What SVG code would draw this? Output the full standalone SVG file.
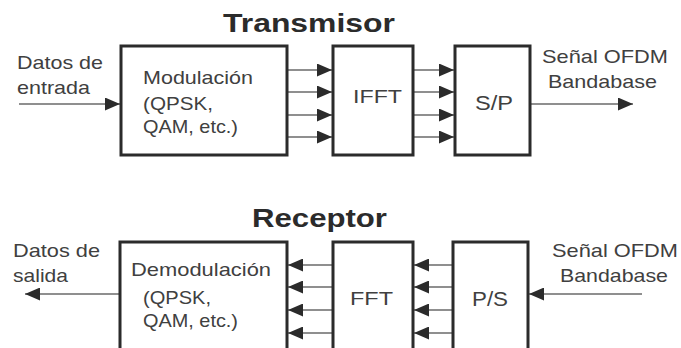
<svg xmlns="http://www.w3.org/2000/svg" width="681" height="348" viewBox="0 0 681 348">
<style>
.box{fill:#fff;stroke:#2b2b2b;stroke-width:3}
.t{font-family:"Liberation Sans",Arial,sans-serif;font-size:19px;fill:#404040}
.title{font-family:"Liberation Sans",Arial,sans-serif;font-size:26px;font-weight:bold;fill:#2b2b2b}
.ln{stroke:#6a6a6a;stroke-width:1.5;fill:none}
</style>
<defs>
<marker id="ah" markerWidth="15" markerHeight="13" refX="15" refY="6.5" orient="auto" markerUnits="userSpaceOnUse">
<path d="M0,0 L15,6.5 L0,13 Z" fill="#2b2b2b"/>
</marker>
</defs>
<rect width="681" height="348" fill="#fff"/>
<text class="title" x="223" y="32" textLength="172" lengthAdjust="spacingAndGlyphs">Transmisor</text>
<text class="title" x="252" y="227" textLength="135" lengthAdjust="spacingAndGlyphs">Receptor</text>
<g id="connectors">
<line class="ln" x1="19" y1="104" x2="120" y2="104" marker-end="url(#ah)"/>
<line class="ln" x1="288" y1="70" x2="332" y2="70" marker-end="url(#ah)"/>
<line class="ln" x1="288" y1="92" x2="332" y2="92" marker-end="url(#ah)"/>
<line class="ln" x1="288" y1="115" x2="332" y2="115" marker-end="url(#ah)"/>
<line class="ln" x1="288" y1="137" x2="332" y2="137" marker-end="url(#ah)"/>
<line class="ln" x1="414" y1="70" x2="454" y2="70" marker-end="url(#ah)"/>
<line class="ln" x1="414" y1="92" x2="454" y2="92" marker-end="url(#ah)"/>
<line class="ln" x1="414" y1="115" x2="454" y2="115" marker-end="url(#ah)"/>
<line class="ln" x1="414" y1="137" x2="454" y2="137" marker-end="url(#ah)"/>
<line class="ln" x1="531" y1="104" x2="633" y2="104" marker-end="url(#ah)"/>
<line class="ln" x1="642" y1="294" x2="529" y2="294" marker-end="url(#ah)"/>
<line class="ln" x1="452" y1="265" x2="414" y2="265" marker-end="url(#ah)"/>
<line class="ln" x1="452" y1="287" x2="414" y2="287" marker-end="url(#ah)"/>
<line class="ln" x1="452" y1="310" x2="414" y2="310" marker-end="url(#ah)"/>
<line class="ln" x1="452" y1="333" x2="414" y2="333" marker-end="url(#ah)"/>
<line class="ln" x1="332" y1="265" x2="288" y2="265" marker-end="url(#ah)"/>
<line class="ln" x1="332" y1="287" x2="288" y2="287" marker-end="url(#ah)"/>
<line class="ln" x1="332" y1="310" x2="288" y2="310" marker-end="url(#ah)"/>
<line class="ln" x1="332" y1="333" x2="288" y2="333" marker-end="url(#ah)"/>
<line class="ln" x1="119" y1="294" x2="25" y2="294" marker-end="url(#ah)"/>
</g>
<g id="in-label">
<text class="t" x="17" y="69" textLength="86" lengthAdjust="spacingAndGlyphs">Datos de</text>
<text class="t" x="17" y="94" textLength="73" lengthAdjust="spacingAndGlyphs">entrada</text>
</g>
<g id="modulacion">
<rect class="box" x="121" y="46" width="166" height="109"/>
<text class="t" x="143" y="84" textLength="110" lengthAdjust="spacingAndGlyphs">Modulación</text>
<text class="t" x="143" y="110" textLength="70" lengthAdjust="spacingAndGlyphs">(QPSK,</text>
<text class="t" x="143" y="133" textLength="95" lengthAdjust="spacingAndGlyphs">QAM, etc.)</text>
</g>
<g id="ifft">
<rect class="box" x="333" y="46" width="80" height="109"/>
<text class="t" x="353" y="103" textLength="49" lengthAdjust="spacingAndGlyphs">IFFT</text>
</g>
<g id="sp">
<rect class="box" x="455" y="46" width="75" height="109"/>
<text class="t" x="475" y="110" style="font-size:21px" textLength="38" lengthAdjust="spacingAndGlyphs">S/P</text>
</g>
<g id="out-label">
<text class="t" x="542" y="63" textLength="126" lengthAdjust="spacingAndGlyphs">Señal OFDM</text>
<text class="t" x="548" y="88" textLength="109" lengthAdjust="spacingAndGlyphs">Bandabase</text>
</g>
<g id="rx-out-label">
<text class="t" x="13" y="257" textLength="87" lengthAdjust="spacingAndGlyphs">Datos de</text>
<text class="t" x="13" y="282" textLength="55" lengthAdjust="spacingAndGlyphs">salida</text>
</g>
<g id="demodulacion">
<rect class="box" x="120" y="242" width="167" height="130"/>
<text class="t" x="131" y="276" textLength="140" lengthAdjust="spacingAndGlyphs">Demodulación</text>
<text class="t" x="143" y="304" textLength="68" lengthAdjust="spacingAndGlyphs">(QPSK,</text>
<text class="t" x="143" y="327" textLength="95" lengthAdjust="spacingAndGlyphs">QAM, etc.)</text>
</g>
<g id="fft">
<rect class="box" x="333" y="242" width="80" height="130"/>
<text class="t" x="350" y="305" textLength="43" lengthAdjust="spacingAndGlyphs">FFT</text>
</g>
<g id="ps">
<rect class="box" x="453" y="242" width="75" height="130"/>
<text class="t" x="472" y="306" style="font-size:21px" textLength="36" lengthAdjust="spacingAndGlyphs">P/S</text>
</g>
<g id="rx-in-label">
<text class="t" x="552" y="257" textLength="126" lengthAdjust="spacingAndGlyphs">Señal OFDM</text>
<text class="t" x="560" y="282" textLength="108" lengthAdjust="spacingAndGlyphs">Bandabase</text>
</g>
</svg>
